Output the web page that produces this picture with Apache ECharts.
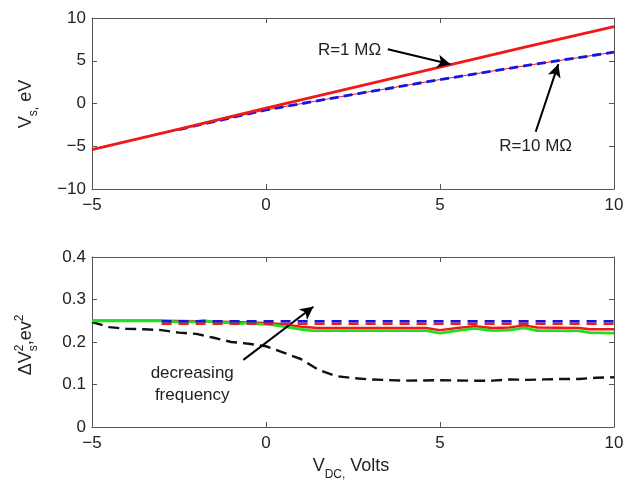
<!DOCTYPE html>
<html>
<head>
<meta charset="utf-8">
<script src="https://cdn.jsdelivr.net/npm/echarts@6/dist/echarts.min.js"></script>
<style>
  html, body { margin: 0; padding: 0; background: #fff; }
  #chart { width: 637px; height: 488px; }
</style>
</head>
<body>
<div id="chart"></div>
<script>
// ---- Upper panel: surface potential Vs against DC bias ----
const vdcTop = [-5, -2.5, 0, 2.5, 5, 7.5, 10];
const vsR1 = [-5.4, -3.0, -0.55, 1.85, 4.25, 6.65, 9.0];     // R = 1 MOhm
const vsR10 = [-5.4, -3.05, -0.75, 1.05, 2.8, 4.45, 6.0];     // R = 10 MOhm
const dashedFrom = -2.5;                                      // dashed overlay starts here

// ---- Lower panel: potential variance for several frequencies ----
const vdcGreen = [-5, -3, -2.5, -2, -1.8, -1.5, -1, -0.7, -0.5, -0.2, 0, 0.5, 1, 1.3, 2, 3, 4, 4.6, 5, 5.5, 6, 6.5, 7, 7.4, 7.8, 8.5, 9, 9.3, 10];
const dvGreen = [0.25, 0.25, 0.247, 0.248, 0.251, 0.247, 0.245, 0.243, 0.246, 0.242, 0.242, 0.237, 0.23, 0.227, 0.227, 0.227, 0.227, 0.227, 0.221, 0.227, 0.232, 0.227, 0.228, 0.233, 0.227, 0.227, 0.226, 0.222, 0.221];

const vdcRed = [-5, -3, -2, -1, 0, 0.5, 1, 1.5, 4.6, 5, 5.5, 6, 6.5, 7, 7.4, 7.8, 9, 9.3, 10];
const dvRed = [0.25, 0.25, 0.249, 0.247, 0.245, 0.242, 0.236, 0.233, 0.233, 0.228, 0.233, 0.237, 0.233, 0.234, 0.239, 0.234, 0.233, 0.23, 0.23];

const vdcFlat = [-3, 10];
const dvBlueDash = [0.249, 0.249];
const dvRedDash = [0.243, 0.243];

const vdcBlack = [-5, -4.5, -4, -3.5, -3, -2.5, -2, -1.5, -1, -0.5, 0, 0.5, 1, 1.5, 2, 2.5, 3, 4, 5, 6, 6.5, 7, 7.5, 8, 8.5, 9, 9.5, 10];
const dvBlack = [0.247, 0.235, 0.231, 0.23, 0.228, 0.222, 0.219, 0.21, 0.2, 0.196, 0.19, 0.175, 0.16, 0.135, 0.12, 0.115, 0.112, 0.109, 0.11, 0.109, 0.109, 0.112, 0.111, 0.112, 0.113, 0.113, 0.116, 0.117];

// ---- Tick values ----
const xTicks = [-5, 0, 5, 10];
const yTicksTop = [-10, -5, 0, 5, 10];
const yTicksBottom = [0, 0.1, 0.2, 0.3, 0.4];

// ---- Annotations (data coordinates) ----
const noteR1 = { text: 'R=1 M\u03A9', at: [2.4, 6.25], from: [3.5, 6.35], to: [5.3, 4.6] };
const noteR10 = { text: 'R=10 M\u03A9', at: [7.75, -4.95], from: [7.75, -3.3], to: [8.4, 4.6] };
const noteFreq = { text: 'decreasing\nfrequency', at: [-2.12, 0.1], from: [-0.65, 0.158], to: [1.36, 0.283] };

const FONT = '"Liberation Sans", Arial, Helvetica, sans-serif';
const AXIS_COLOR = '#555';
const TEXT_COLOR = '#222';
const RED = '#f01818', BLUE = '#1515e0', GREEN = '#1ee01e', BLACK = '#111';

const pairs = (xs, ys) => xs.map((x, i) => [x, ys[i]]);
const minusSign = v => String(v).replace('-', '\u2212');

function axisRange(ticks) {
  return { min: ticks[0], max: ticks[ticks.length - 1], interval: ticks[1] - ticks[0] };
}

function makeX(gridIndex, position, showLabels) {
  return Object.assign({
    type: 'value', gridIndex, position,
    axisLine: { show: true, onZero: false, lineStyle: { color: AXIS_COLOR, width: 1 } },
    axisTick: { show: true, inside: true, length: 5, lineStyle: { color: AXIS_COLOR } },
    splitLine: { show: false },
    axisLabel: { show: showLabels, margin: 8, color: TEXT_COLOR, fontSize: 17, fontFamily: FONT, formatter: minusSign }
  }, axisRange(xTicks));
}

function makeY(gridIndex, position, ticks, showLabels, fmt) {
  return Object.assign({
    type: 'value', gridIndex, position,
    axisLine: { show: true, onZero: false, lineStyle: { color: AXIS_COLOR, width: 1 } },
    axisTick: { show: true, inside: true, length: 5, lineStyle: { color: AXIS_COLOR } },
    splitLine: { show: false },
    axisLabel: { show: showLabels, margin: 6, color: TEXT_COLOR, fontSize: 17, fontFamily: FONT, formatter: fmt }
  }, axisRange(ticks));
}

function line(name, xi, yi, data, color, width, type, z) {
  return {
    name, type: 'line', xAxisIndex: xi, yAxisIndex: yi, data,
    showSymbol: false, symbol: 'none', smooth: false, z,
    lineStyle: { color, width, type, cap: 'butt' }
  };
}

function annotate(series, note) {
  series.markPoint = {
    silent: true, symbol: 'circle', symbolSize: 0,
    label: { show: true, position: 'inside', formatter: note.text, color: TEXT_COLOR, fontSize: 17, fontFamily: FONT, lineHeight: 22, align: 'center' },
    data: [{ coord: note.at }]
  };
  series.markLine = {
    silent: true, symbol: ['none', 'arrow'], symbolSize: [10, 13],
    label: { show: false },
    lineStyle: { color: '#000', width: 2, type: 'solid' },
    data: [[{ coord: note.from }, { coord: note.to }]]
  };
  return series;
}

// Axis titles built from pieces so sub/superscripts can be placed
const measureCtx = document.createElement('canvas').getContext('2d');
function titleGroup(pieces, cx, cy, rotation) {
  let x = 0;
  const kids = [];
  pieces.forEach(p => {
    const font = p.size + 'px ' + FONT;
    measureCtx.font = font;
    const w = measureCtx.measureText(p.t).width;
    kids.push({ type: 'text', x: x, y: (p.dy || 0) + 0.21 * p.size,
      style: { text: p.t, font: font, fill: TEXT_COLOR, align: 'left', verticalAlign: 'bottom' } });
    if (!p.stack) x += w;
  });
  kids.forEach(k => { k.x -= x / 2; });
  return { type: 'group', x: cx, y: cy, rotation: rotation, children: kids, silent: true };
}

const seriesList = [
  line('R=10 base', 0, 0, pairs(vdcTop, vsR10), RED, 1, 'solid', 2),
  line('R=10 dashed', 0, 0, pairs(vdcTop, vsR10).filter(p => p[0] >= dashedFrom), BLUE, 2.8, [9, 5], 3),
  annotate(line('R=1', 0, 0, pairs(vdcTop, vsR1), RED, 2.8, 'solid', 4), noteR1),
  line('low-frequency', 2, 2, pairs(vdcBlack, dvBlack), BLACK, 2.4, [11, 6], 2),
  line('red', 2, 2, pairs(vdcRed, dvRed), RED, 2.4, 'solid', 3),
  line('green', 2, 2, pairs(vdcGreen, dvGreen), GREEN, 2.8, 'solid', 4),
  line('red dashed', 2, 2, pairs(vdcFlat, dvRedDash), RED, 2.6, [10, 7], 5),
  annotate(line('blue dashed', 2, 2, pairs(vdcFlat, dvBlueDash), BLUE, 2.6, [10, 7], 6), noteFreq)
];
// Second annotation for the upper panel goes on the R=10 base line
annotate(seriesList[0], noteR10);

const option = {
  animation: false,
  backgroundColor: '#fff',
  grid: [
    { left: 92, right: 23, top: 18, height: 171 },
    { left: 92, right: 23, top: 257, height: 170 }
  ],
  xAxis: [
    makeX(0, 'bottom', true),
    makeX(0, 'top', false),
    makeX(1, 'bottom', true),
    makeX(1, 'top', false)
  ],
  yAxis: [
    makeY(0, 'left', yTicksTop, true, minusSign),
    makeY(0, 'right', yTicksTop, false),
    makeY(1, 'left', yTicksBottom, true, v => (v === 0 ? '0' : Number(v).toFixed(1))),
    makeY(1, 'right', yTicksBottom, false)
  ],
  series: seriesList,
  graphic: [
    titleGroup([
      { t: 'V', size: 18 },
      { t: 's,', size: 12, dy: 6 },
      { t: ' eV', size: 18 }
    ], 31, 104, Math.PI / 2),
    titleGroup([
      { t: '\u0394V', size: 18 },
      { t: '2', size: 12, dy: -8, stack: true },
      { t: 's', size: 12, dy: 6 },
      { t: ',', size: 18 },
      { t: 'ev', size: 18 },
      { t: '2', size: 12, dy: -8 }
    ], 31, 345, Math.PI / 2),
    titleGroup([
      { t: 'V', size: 18 },
      { t: 'DC,', size: 12, dy: 7 },
      { t: ' Volts', size: 18 }
    ], 351, 471, 0)
  ]
};

const chart = echarts.init(document.getElementById('chart'), null, { renderer: 'canvas' });
chart.setOption(option);
</script>
</body>
</html>
